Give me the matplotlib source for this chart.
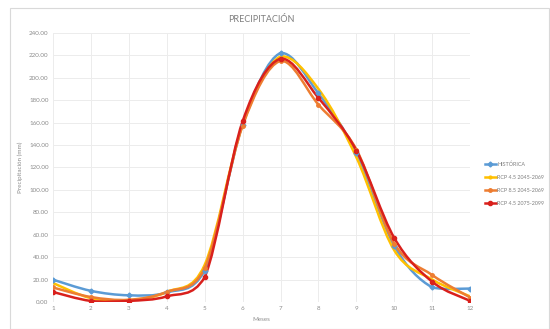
import numpy as np
import matplotlib
matplotlib.use('Agg')
import matplotlib.pyplot as plt
from matplotlib.path import Path
from matplotlib.patches import PathPatch, Rectangle

plt.rcParams['font.family'] = ['Lato', 'DejaVu Sans']

# Monthly precipitation (mm)
meses = [1, 2, 3, 4, 5, 6, 7, 8, 9, 10, 11, 12]
historica = [20, 10, 6, 8.5, 28, 158, 222, 186, 133, 50, 13, 12]
rcp_a = [17, 3.5, 1.5, 9, 33, 158, 219, 190, 129, 46, 20, 5]
rcp_b = [13, 4.5, 2, 9, 30, 157, 215, 176, 136, 52, 24, 4]
rcp_c = [9, 1, 1, 5, 22, 161, 217, 182, 135, 57, 18, 1]

series_labels = ['HISTÓRICA', 'RCP 4.5 2045-2069', 'RCP 8.5 2045-2069', 'RCP 4.5 2075-2099']
y_ticks = [0, 20, 40, 60, 80, 100, 120, 140, 160, 180, 200, 220, 240]


# Excel-like smoothed line: cubic bezier segments through the points
def smooth_path(x, y, t=1/6):
  x = np.asarray(x, float)
  y = np.asarray(y, float)
  verts = [(x[0], y[0])]
  codes = [Path.MOVETO]
  n = len(x)
  for i in range(n - 1):
    x0, y0 = (x[i-1], y[i-1]) if i > 0 else (x[i], y[i])
    x3, y3 = (x[i+2], y[i+2]) if i + 2 < n else (x[i+1], y[i+1])
    lo, hi = min(y[i], y[i+1]), max(y[i], y[i+1])
    c1y = np.clip(y[i] + (y[i+1] - y0) * t, lo - 1.5, hi + 1.5)
    c2y = np.clip(y[i+1] - (y3 - y[i]) * t, lo - 1.5, hi + 1.5)
    c1 = (x[i] + (x[i+1] - x0) * t, c1y)
    c2 = (x[i+1] - (x3 - x[i]) * t, c2y)
    verts += [c1, c2, (x[i+1], y[i+1])]
    codes += [Path.CURVE4] * 3
  return Path(verts, codes)


fig = plt.figure(figsize=(5.5, 3.29), dpi=100)
fig.patches.append(Rectangle((0.018, 0.0), 0.98, 0.975, transform=fig.transFigure,
                             fill=False, edgecolor='#d9d9d9', linewidth=0.8))
ax = fig.add_axes([0.096, 0.082, 0.759, 0.818])

styles = [
  (historica, '#5B9BD5', 'D', 2.5),
  (rcp_a, '#FFC000', None, 0),
  (rcp_b, '#ED7D31', 'o', 2.5),
  (rcp_c, '#D9201C', 'o', 3),
]

for (vals, color, marker, ms), label in zip(styles, series_labels):
  patch = PathPatch(smooth_path(meses, vals), facecolor='none', edgecolor=color,
                    linewidth=1.8, transform=ax.transData)
  ax.add_patch(patch)
  if marker:
    ax.plot(meses, vals, linestyle='none', marker=marker, markersize=ms, color=color)
  # proxy for legend
  ax.plot([], [], color=color, linewidth=1.8, marker=marker or 'o',
          markersize=ms if marker else 2, label=label)

ax.set_xlim(1, 12)
ax.set_ylim(0, 240)
ax.set_xticks(meses)
ax.set_yticks(y_ticks)
ax.set_yticklabels([f'{v:.2f}' for v in y_ticks])
ax.tick_params(labelsize=4.5, colors='#8c8c8c', length=0, pad=3)
ax.grid(True, color='#ececec', linewidth=0.7)
ax.set_axisbelow(True)
for s in ax.spines.values():
  s.set_visible(False)

ax.set_title('PRECIPITACIÓN', fontsize=6.5, color='#7f7f7f', pad=8)
ax.set_xlabel('Meses', fontsize=4.5, color='#8c8c8c', labelpad=4)
ax.set_ylabel('Precipitación (mm)', fontsize=4.5, color='#8c8c8c', labelpad=4)

ax.legend(loc='center left', bbox_to_anchor=(1.03, 0.44), frameon=False,
          fontsize=3.9, labelcolor='#7f7f7f', handlelength=2.0, labelspacing=1.5,
          handletextpad=0.3, borderaxespad=0)

fig.savefig('out.png', dpi=100)
